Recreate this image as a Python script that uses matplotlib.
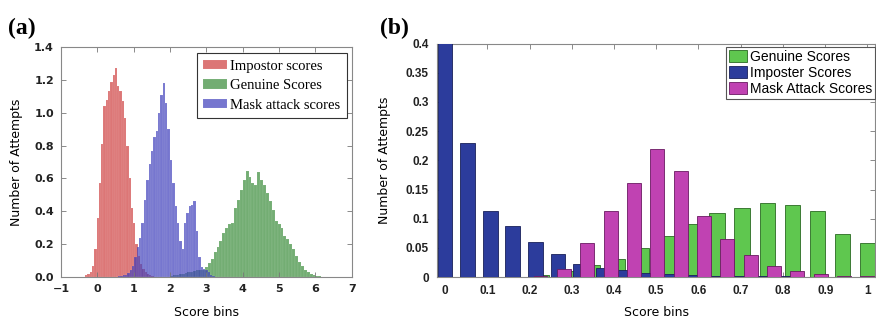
import numpy as np
import matplotlib
matplotlib.use("Agg")
import matplotlib.pyplot as plt
from matplotlib.ticker import FixedLocator, FixedFormatter

# ---- panel (a): score histograms (bin start, bin width, heights) ----
red_start, red_width = -0.40, 0.063
red_heights = [0.003, 0.01, 0.02, 0.03, 0.07, 0.17, 0.36, 0.57, 0.81, 1.04,
               1.08, 1.13, 1.19, 1.23, 1.27, 1.16, 1.13, 1.07, 0.97, 0.80,
               0.60, 0.42, 0.33, 0.20, 0.13, 0.08, 0.05, 0.03, 0.02, 0.01,
               0.005, 0.002]

blue_start, blue_width = 0.50, 0.065
blue_heights = [0.002, 0.004, 0.006, 0.01, 0.015, 0.025, 0.04, 0.07, 0.12,
                0.18, 0.24, 0.33, 0.47, 0.59, 0.69, 0.77, 0.85, 0.89, 1.00,
                1.11, 1.18, 1.06, 0.90, 0.71, 0.57, 0.43, 0.33, 0.22, 0.17,
                0.33, 0.39, 0.43, 0.44, 0.46, 0.28, 0.12, 0.06, 0.05, 0.04,
                0.03, 0.015, 0.005]

green_start, green_width = 2.00, 0.08
green_heights = [0.005, 0.01, 0.015, 0.02, 0.02, 0.025, 0.03, 0.03, 0.035,
                 0.04, 0.04, 0.045, 0.06, 0.085, 0.11, 0.15, 0.18, 0.22,
                 0.27, 0.30, 0.32, 0.33, 0.42, 0.47, 0.53, 0.59, 0.645, 0.61,
                 0.57, 0.56, 0.64, 0.59, 0.56, 0.51, 0.46, 0.41, 0.34, 0.32,
                 0.30, 0.25, 0.23, 0.20, 0.17, 0.13, 0.09, 0.07, 0.045, 0.03,
                 0.02, 0.012, 0.008, 0.005, 0.003, 0.001]

a_labels = ["Impostor scores", "Genuine Scores", "Mask attack scores"]

# ---- panel (b): normalised score bins ----
gen_x = [0.170, 0.229, 0.288, 0.348, 0.407, 0.466, 0.526, 0.585, 0.644,
         0.703, 0.763, 0.822, 0.881, 0.941, 1.0]
gen_y = [0.0006, 0.003, 0.010, 0.020, 0.031, 0.050, 0.071, 0.091, 0.109,
         0.119, 0.127, 0.124, 0.113, 0.074, 0.058]

imp_x = [0.0, 0.0535, 0.107, 0.1605, 0.214, 0.2675, 0.321, 0.3745, 0.428,
         0.4815, 0.535, 0.5885, 0.642, 0.6955, 0.749, 0.8025, 0.856, 0.9095,
         0.963]
imp_y = [0.41, 0.23, 0.114, 0.087, 0.060, 0.039, 0.023, 0.0154, 0.0114,
         0.0074, 0.0046, 0.003, 0.002, 0.0015, 0.001, 0.001, 0.0008, 0.0005,
         0.0003]

mask_x = [0.226, 0.281, 0.337, 0.392, 0.447, 0.502, 0.558, 0.613, 0.668,
          0.724, 0.779, 0.834, 0.889, 0.945, 1.0]
mask_y = [0.002, 0.014, 0.058, 0.113, 0.162, 0.219, 0.182, 0.104, 0.065,
          0.037, 0.019, 0.010, 0.006, 0.002, 0.001]

b_labels = ["Genuine Scores", "Imposter Scores", "Mask Attack Scores"]


def hist_bars(ax, start, width, heights, face, label):
    edges = start + width * np.arange(len(heights))
    ax.bar(edges, heights, width=width, align="edge", color=face,
           edgecolor=(1, 1, 1, 0.18), linewidth=0.3, label=label)


fig = plt.figure(figsize=(8.76, 3.21), dpi=100)

# ---------------- (a) ----------------
ax1 = fig.add_axes([0.0696, 0.137, 0.332, 0.7165])
hist_bars(ax1, red_start, red_width, red_heights, (0.80, 0.20, 0.20, 0.67), a_labels[0])
hist_bars(ax1, green_start, green_width, green_heights, (0.18, 0.52, 0.18, 0.67), a_labels[1])
hist_bars(ax1, blue_start, blue_width, blue_heights, (0.20, 0.20, 0.72, 0.67), a_labels[2])
ax1.set_xlim(-1, 7)
ax1.set_ylim(0, 1.4)
ax1.set_xticks(np.arange(-1, 8, 1))
ax1.set_yticks(np.arange(0, 1.41, 0.2))
ax1.yaxis.set_major_formatter(matplotlib.ticker.FormatStrFormatter("%.1f"))
ax1.tick_params(direction="in", top=True, right=True, length=3.5, width=0.6,
                color="#777777", labelsize=8, pad=5)
for lab in ax1.get_xticklabels() + ax1.get_yticklabels():
    lab.set_fontweight("bold")
    lab.set_color("#222222")
for s in ax1.spines.values():
    s.set_color("#888888")
    s.set_linewidth(0.8)
ax1.set_ylabel("Number of Attempts", fontsize=9)
ax1.set_xlabel("Score bins", fontsize=9)
ax1.yaxis.set_label_coords(-0.13, 0.5)
ax1.xaxis.set_label_coords(0.5, -0.124)
leg1 = ax1.legend(loc="upper right", bbox_to_anchor=(0.983, 0.974),
                  borderaxespad=0, fancybox=False, framealpha=1,
                  edgecolor="#333333", prop={"family": "Liberation Serif", "size": 10.5},
                  handlelength=1.6, handleheight=0.6, handletextpad=0.25,
                  labelspacing=0.45, borderpad=0.45)
leg1.get_frame().set_linewidth(0.8)

# ---------------- (b) ----------------
ax2 = fig.add_axes([0.4989, 0.137, 0.5, 0.727])
ax2.bar(gen_x, gen_y, width=0.036, color="#5fc74f", edgecolor="#2a6a22",
        linewidth=0.6, label=b_labels[0], zorder=2)
ax2.bar(imp_x, imp_y, width=0.035, color="#2c3c9c", edgecolor="#18205a",
        linewidth=0.6, label=b_labels[1], zorder=3)
ax2.bar(mask_x, mask_y, width=0.033, color="#c042b2", edgecolor="#6a1a62",
        linewidth=0.6, label=b_labels[2], zorder=4)
ax2.set_xlim(-0.019, 1.018)
ax2.set_ylim(0, 0.4)
xt = [0, 0.1, 0.2, 0.3, 0.4, 0.5, 0.6, 0.7, 0.8, 0.9, 1.0]
yt = [0, 0.05, 0.1, 0.15, 0.2, 0.25, 0.3, 0.35, 0.4]
ax2.xaxis.set_major_locator(FixedLocator(xt))
ax2.xaxis.set_major_formatter(FixedFormatter([f"{v:g}" for v in xt]))
ax2.yaxis.set_major_locator(FixedLocator(yt))
ax2.yaxis.set_major_formatter(FixedFormatter([f"{v:g}" for v in yt]))
ax2.tick_params(direction="in", top=True, right=True, length=3.5, width=0.6,
                color="#777777", labelsize=8.5, pad=6)
for lab in ax2.get_xticklabels() + ax2.get_yticklabels():
    lab.set_family("Liberation Sans")
    lab.set_fontweight("bold")
    lab.set_color("#222222")
for s in ax2.spines.values():
    s.set_color("#888888")
    s.set_linewidth(0.8)
ax2.set_ylabel("Number of Attempts", fontsize=9)
ax2.set_xlabel("Score bins", fontsize=9)
ax2.yaxis.set_label_coords(-0.105, 0.5)
ax2.xaxis.set_label_coords(0.5, -0.124)
leg2 = ax2.legend(loc="upper right", bbox_to_anchor=(1.0, 0.985),
                  borderaxespad=0, fancybox=False, framealpha=1,
                  edgecolor="#555555", prop={"family": "Liberation Sans", "size": 10},
                  handlelength=1.3, handleheight=0.95, handletextpad=0.2,
                  labelspacing=0.15, borderpad=0.2)
leg2.get_frame().set_linewidth(0.8)

# panel letters
fig.text(0.009, 0.895, "(a)", fontsize=17, fontweight="bold", family="Liberation Serif")
fig.text(0.434, 0.895, "(b)", fontsize=17, fontweight="bold", family="Liberation Serif")

fig.savefig("out.png", dpi=100)
plt.close(fig)
